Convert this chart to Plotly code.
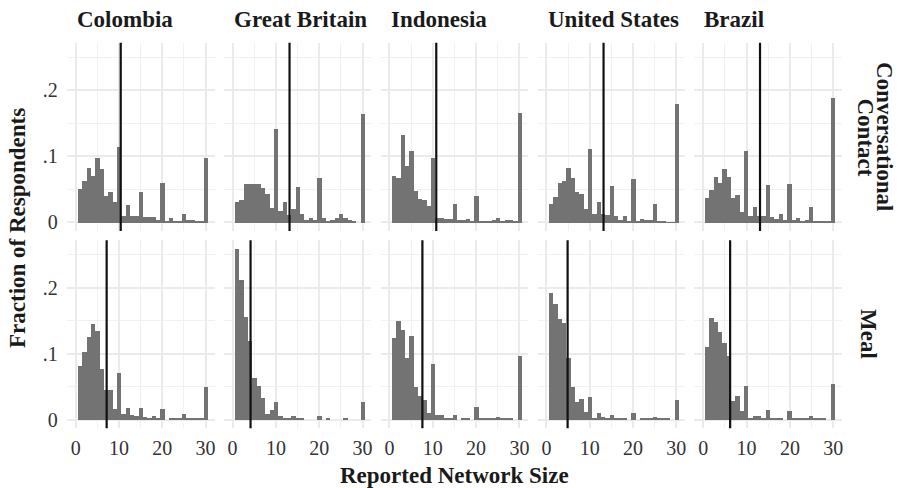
import plotly.graph_objects as go

# ---- data ----
countries = ["Colombia", "Great Britain", "Indonesia", "United States", "Brazil"]
network_size = list(range(1, 31))
x_ticks = [0, 10, 20, 30]
y_ticks = [0, 0.1, 0.2]
y_tick_labels = ["0", ".1", ".2"]

conv_colombia = [0.051, 0.063, 0.083, 0.071, 0.098, 0.081, 0.041, 0.046, 0.031, 0.115,
                 0.010, 0.027, 0.010, 0.010, 0.046, 0.008, 0.008, 0.008, 0.004, 0.060,
                 0.002, 0.007, 0.002, 0.002, 0.013, 0.004, 0.004, 0.001, 0.001, 0.098]
conv_britain = [0.031, 0.034, 0.058, 0.058, 0.058, 0.058, 0.052, 0.043, 0.022, 0.142,
                0.017, 0.031, 0.011, 0.020, 0.054, 0.013, 0.004, 0.007, 0.004, 0.068,
                0.007, 0.002, 0.004, 0.007, 0.013, 0.007, 0.004, 0.002, 0.000, 0.165]
conv_indonesia = [0.071, 0.068, 0.133, 0.085, 0.109, 0.048, 0.036, 0.034, 0.025, 0.098,
                  0.007, 0.007, 0.005, 0.005, 0.028, 0.004, 0.004, 0.005, 0.001, 0.040,
                  0.002, 0.001, 0.002, 0.004, 0.007, 0.003, 0.004, 0.004, 0.002, 0.166]
conv_us = [0.028, 0.039, 0.060, 0.063, 0.083, 0.068, 0.046, 0.043, 0.020, 0.112,
           0.013, 0.032, 0.013, 0.011, 0.055, 0.010, 0.004, 0.010, 0.002, 0.066,
           0.002, 0.005, 0.004, 0.004, 0.028, 0.002, 0.002, 0.0005, 0.0005, 0.180]
conv_brazil = [0.037, 0.049, 0.069, 0.060, 0.081, 0.069, 0.037, 0.042, 0.016, 0.109,
               0.010, 0.023, 0.010, 0.010, 0.057, 0.008, 0.006, 0.013, 0.004, 0.058,
               0.004, 0.007, 0.002, 0.004, 0.023, 0.002, 0.002, 0.002, 0.002, 0.188]

meal_colombia = [0.081, 0.103, 0.125, 0.145, 0.134, 0.077, 0.045, 0.045, 0.016, 0.071,
                 0.009, 0.018, 0.007, 0.006, 0.018, 0.004, 0.003, 0.006, 0.003, 0.016,
                 0.000, 0.003, 0.001, 0.001, 0.009, 0.001, 0.001, 0.003, 0.0015, 0.049]
meal_britain = [0.259, 0.212, 0.156, 0.119, 0.063, 0.051, 0.033, 0.009, 0.015, 0.027,
                0.006, 0.003, 0.001, 0.006, 0.003, 0.003, 0.000, 0.000, 0.000, 0.006,
                0.000, 0.003, 0.000, 0.000, 0.000, 0.003, 0.000, 0.000, 0.000, 0.027]
meal_indonesia = [0.124, 0.149, 0.136, 0.093, 0.127, 0.049, 0.036, 0.030, 0.010, 0.084,
                  0.007, 0.007, 0.0015, 0.003, 0.007, 0.000, 0.003, 0.0015, 0.000, 0.019,
                  0.003, 0.001, 0.001, 0.001, 0.004, 0.001, 0.001, 0.001, 0.000, 0.096]
meal_us = [0.192, 0.175, 0.153, 0.146, 0.093, 0.049, 0.027, 0.031, 0.012, 0.034,
           0.003, 0.010, 0.004, 0.003, 0.007, 0.003, 0.001, 0.003, 0.000, 0.010,
           0.000, 0.001, 0.001, 0.001, 0.004, 0.001, 0.001, 0.001, 0.000, 0.030]
meal_brazil = [0.110, 0.154, 0.148, 0.133, 0.116, 0.096, 0.028, 0.036, 0.013, 0.051,
               0.003, 0.006, 0.006, 0.003, 0.015, 0.001, 0.0015, 0.003, 0.000, 0.013,
               0.001, 0.003, 0.001, 0.001, 0.006, 0.001, 0.001, 0.0015, 0.000, 0.054]

conv_means = [10.4, 13.15, 10.8, 13.2, 13.1]
meal_means = [7.15, 4.15, 7.6, 4.9, 6.2]

rows = [
    [conv_colombia, conv_britain, conv_indonesia, conv_us, conv_brazil],
    [meal_colombia, meal_britain, meal_indonesia, meal_us, meal_brazil],
]
means = [conv_means, meal_means]

# ---- layout geometry (pixels) ----
W, H = 906, 488
panel_left0 = 66.8
panel_step = 156.9
panel_w = 147.7
row_tops = [42.7, 240.2]
row_bots = [230.9, 428.3]

SERIF = "Liberation Serif"
BAR = "#737373"
GRID = "#EBEBEB"
MINOR = "#F1F1F1"
TITLE_SIZE = 23

fig = go.Figure()
shapes = []
annotations = []

for r in range(2):
    for c in range(5):
        idx = r * 5 + c + 1
        xa = f"x{idx}" if idx > 1 else "x"
        ya = f"y{idx}" if idx > 1 else "y"
        fig.add_trace(go.Bar(
            x=network_size, y=rows[r][c], width=1.0,
            marker=dict(color=BAR, line=dict(width=0)),
            xaxis=xa, yaxis=ya, showlegend=False, hoverinfo="x+y",
        ))
        left = panel_left0 + c * panel_step
        xdom = [left / W, (left + panel_w) / W]
        ydom = [1 - row_bots[r] / H, 1 - row_tops[r] / H]
        xkey = f"xaxis{idx}" if idx > 1 else "xaxis"
        ykey = f"yaxis{idx}" if idx > 1 else "yaxis"
        fig.layout[xkey] = dict(
            domain=xdom, anchor=ya, range=[-2.05, 32.05],
            tickmode="array", tickvals=x_ticks,
            showticklabels=(r == 1), ticks="",
            showgrid=True, gridcolor=GRID, gridwidth=1.6,
            minor=dict(showgrid=True, dtick=5, tick0=0, gridcolor=MINOR, gridwidth=1),
            zeroline=False, showline=False, fixedrange=True, automargin=False,
            tickfont=dict(family=SERIF, size=20, color="#333333"),
            ticklabelstandoff=6,
        )
        fig.layout[ykey] = dict(
            domain=ydom, anchor=xa, range=[-0.01295, 0.2719],
            tickmode="array", tickvals=y_ticks, ticktext=y_tick_labels,
            showticklabels=(c == 0), ticks="",
            showgrid=True, gridcolor=GRID, gridwidth=1.6,
            minor=dict(showgrid=True, dtick=0.05, tick0=0, gridcolor=MINOR, gridwidth=1),
            zeroline=False, showline=False, fixedrange=True, automargin=False,
            tickfont=dict(family=SERIF, size=20, color="#333333"),
            ticklabelstandoff=8,
        )
        shapes.append(dict(
            type="line", xref=xa, yref=f"{ya} domain",
            x0=means[r][c], x1=means[r][c], y0=0, y1=1,
            line=dict(color="#111111", width=2.2),
        ))

# column strip labels
for c, name in enumerate(countries):
    left = panel_left0 + c * panel_step
    annotations.append(dict(
        text=f"<b>{name}</b>", x=(left + 8) / W, y=1 - 19.5 / H,
        xref="paper", yref="paper", xanchor="left", yanchor="middle",
        showarrow=False, font=dict(family=SERIF, size=TITLE_SIZE, color="#1a1a1a"),
    ))

# row strip labels (rotated)
annotations.append(dict(
    text="<b>Conversational</b>", x=885 / W, y=1 - 137 / H, textangle=90,
    xref="paper", yref="paper", xanchor="center", yanchor="middle",
    showarrow=False, font=dict(family=SERIF, size=TITLE_SIZE, color="#1a1a1a"),
))
annotations.append(dict(
    text="<b>Contact</b>", x=865.5 / W, y=1 - 137 / H, textangle=90,
    xref="paper", yref="paper", xanchor="center", yanchor="middle",
    showarrow=False, font=dict(family=SERIF, size=TITLE_SIZE, color="#1a1a1a"),
))
annotations.append(dict(
    text="<b>Meal</b>", x=869 / W, y=1 - 334 / H, textangle=90,
    xref="paper", yref="paper", xanchor="center", yanchor="middle",
    showarrow=False, font=dict(family=SERIF, size=TITLE_SIZE, color="#1a1a1a"),
))

# axis titles
annotations.append(dict(
    text="<b>Reported Network Size</b>", x=454.5 / W, y=1 - 475 / H,
    xref="paper", yref="paper", xanchor="center", yanchor="middle",
    showarrow=False, font=dict(family=SERIF, size=TITLE_SIZE, color="#1a1a1a"),
))
annotations.append(dict(
    text="<b>Fraction of Respondents</b>", x=18 / W, y=1 - 228 / H, textangle=-90,
    xref="paper", yref="paper", xanchor="center", yanchor="middle",
    showarrow=False, font=dict(family=SERIF, size=TITLE_SIZE, color="#1a1a1a"),
))

fig.update_layout(
    width=W, height=H, margin=dict(l=0, r=0, t=0, b=0),
    paper_bgcolor="white", plot_bgcolor="white",
    bargap=0, barmode="overlay", showlegend=False,
    shapes=shapes, annotations=annotations,
    font=dict(family=SERIF),
)

fig.write_html("out.html")
